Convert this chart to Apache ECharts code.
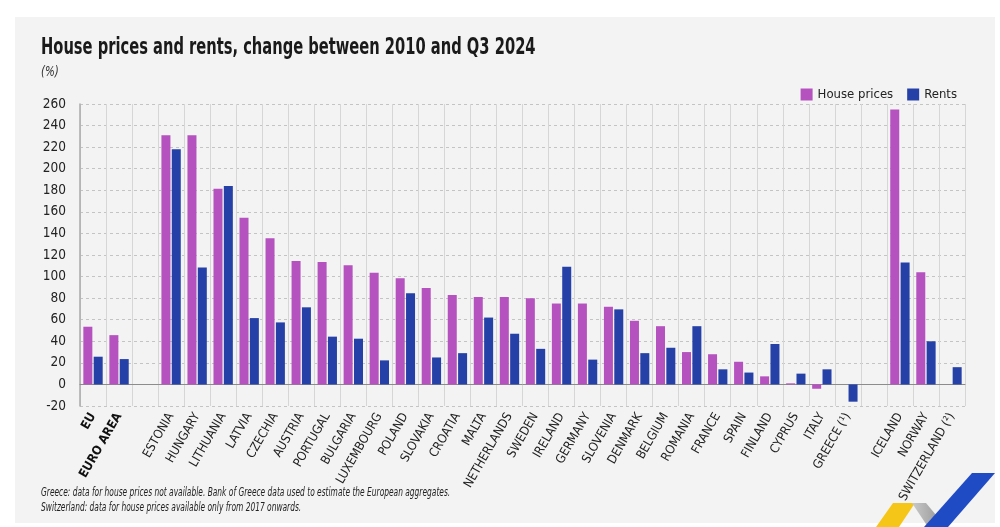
<!DOCTYPE html>
<html>
<head>
<meta charset="utf-8">
<script src="https://cdn.jsdelivr.net/npm/echarts@6/dist/echarts.min.js"></script>
<style>
html,body{margin:0;padding:0;background:#ffffff;}
#panel{position:absolute;left:15px;top:17px;width:980px;height:506px;background:#f3f3f3;}
#chart{position:absolute;left:0;top:0;width:1000px;height:527px;}
</style>
</head>
<body>
<div id="panel"></div>
<div id="chart"></div>
<script>
const categories = ['EU','EURO AREA','','ESTONIA','HUNGARY','LITHUANIA','LATVIA','CZECHIA','AUSTRIA','PORTUGAL','BULGARIA','LUXEMBOURG','POLAND','SLOVAKIA','CROATIA','MALTA','NETHERLANDS','SWEDEN','IRELAND','GERMANY','SLOVENIA','DENMARK','BELGIUM','ROMANIA','FRANCE','SPAIN','FINLAND','CYPRUS','ITALY','GREECE (¹)','','ICELAND','NORWAY','SWITZERLAND (²)'];
const housePrices = [53.5,45.7,null,231,231,181.5,154.5,135.5,114.5,113.5,110.5,103.5,98.5,89.5,83,81,81,80,75,75,72,59,54,30,28,21,7.5,1,-4,null,null,255,104,null];
const rents = [25.7,23.5,null,218,108.5,184,61.5,57.5,71.5,44.3,42.4,22.3,84.5,25,29,62,47,33,109,23,69.6,29,34,54,14,11,37.5,10,14,-16,null,113,40,16];
const yTicks = {min:-20, max:260, step:20};
const boldCats = ['EU','EURO AREA'];
const titleText = 'House prices and rents, change between 2010 and Q3 2024';
const unitText = '(%)';
const notes = ['Greece: data for house prices not available. Bank of Greece data used to estimate the European aggregates.',
               'Switzerland: data for house prices available only from 2017 onwards.'];

const FONT = "'DejaVu Sans Condensed','Noto Sans',sans-serif";
const PINK = '#b552bf';
const BLUE = '#2540a6';

const chart = echarts.init(document.getElementById('chart'), null, {renderer:'canvas'});
chart.setOption({
  backgroundColor: 'transparent',
  animation: false,
  textStyle: {fontFamily: FONT},
  legend: {
    right: 38, top: 83, itemWidth: 12, itemHeight: 12, itemGap: 14,
    icon: 'rect',
    textStyle: {fontFamily: FONT, fontSize: 13, color: '#222'},
    data: ['House prices', 'Rents']
  },
  grid: {left: 80, right: 35, top: 104, bottom: 121, containLabel: false},
  xAxis: {
    type: 'category',
    data: categories,
    axisLine: {show: true, onZero: true, lineStyle: {color: '#8c8c8c', width: 1}},
    axisTick: {show: false},
    splitLine: {show: true, interval: 0, lineStyle: {color: '#d6d6d6', width: 1}},
    axisLabel: {
      interval: 0, rotate: 60, fontFamily: FONT, fontSize: 12.5, color: '#222', margin: 8,
      formatter: function (v) { return boldCats.indexOf(v) >= 0 ? '{b|' + v + '}' : v; },
      rich: {b: {fontWeight: 'bold', fontFamily: FONT, fontSize: 12.5, color: '#111'}}
    }
  },
  yAxis: {
    type: 'value',
    min: yTicks.min, max: yTicks.max, interval: yTicks.step,
    axisLine: {show: true, lineStyle: {color: '#aaaaaa', width: 1.5}},
    axisTick: {show: false},
    splitLine: {show: true, lineStyle: {color: '#c4c4c4', type: [3, 3], width: 1}},
    axisLabel: {fontFamily: FONT, fontSize: 13.5, color: '#222', margin: 14}
  },
  series: [
    {name: 'House prices', type: 'bar', data: housePrices, barWidth: 9, barGap: '15%',
     itemStyle: {color: PINK}},
    {name: 'Rents', type: 'bar', data: rents, barWidth: 9,
     itemStyle: {color: BLUE}}
  ],
  graphic: [
    {type: 'text', x: 41, y: 37, scaleX: 0.71, z: 20,
     style: {text: titleText, font: "bold 23px 'DejaVu Sans Condensed', sans-serif", fill: '#1a1a1a', verticalAlign: 'top'}},
    {type: 'text', x: 41, y: 65, scaleX: 0.82, z: 20,
     style: {text: unitText, font: "italic 14px 'DejaVu Sans Condensed', sans-serif", fill: '#333', verticalAlign: 'top'}},
    {type: 'text', x: 41, y: 486, scaleX: 0.64, z: 20,
     style: {text: notes[0], font: "italic 13px 'DejaVu Sans Condensed', sans-serif", fill: '#222', verticalAlign: 'top'}},
    {type: 'text', x: 41, y: 501, scaleX: 0.64, z: 20,
     style: {text: notes[1], font: "italic 13px 'DejaVu Sans Condensed', sans-serif", fill: '#222', verticalAlign: 'top'}},
    {type: 'polygon', shape: {points: [[893,503],[915,503],[899,527],[876,527]]}, style: {fill: '#f5c518'}, z: 10},
    {type: 'polygon', shape: {points: [[912,503],[926,503],[946,527],[928,527]]},
     style: {fill: new echarts.graphic.LinearGradient(0,0,1,0,[{offset:0,color:'#c9c9c9'},{offset:1,color:'#8f8f8f'}])}, z: 10},
    {type: 'polygon', shape: {points: [[972,473],[995,473],[948,527],[924,527]]}, style: {fill: '#1f4bc4'}, z: 11}
  ]
});
</script>
</body>
</html>
